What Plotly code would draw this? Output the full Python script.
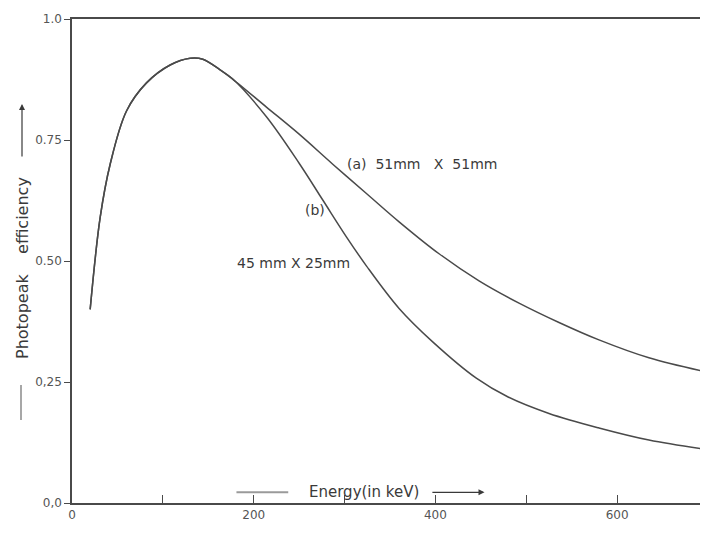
import plotly.graph_objects as go

# Data
energy_a = [20, 31, 42, 60, 82, 108, 130, 144, 163, 174, 214, 250, 287, 325, 360, 404, 448, 492, 536, 580, 635, 700]
eff_a = [0.40, 0.59, 0.70, 0.81, 0.868, 0.905, 0.919, 0.917, 0.895, 0.880, 0.818, 0.762, 0.700, 0.638, 0.581, 0.515, 0.459, 0.413, 0.373, 0.337, 0.300, 0.270]

energy_b = [20, 31, 42, 60, 82, 108, 130, 144, 163, 177, 214, 250, 276, 302, 324, 360, 397, 445, 480, 525, 580, 635, 700]
eff_b = [0.40, 0.59, 0.70, 0.81, 0.868, 0.905, 0.919, 0.917, 0.895, 0.876, 0.798, 0.702, 0.626, 0.550, 0.490, 0.402, 0.333, 0.258, 0.219, 0.185, 0.155, 0.130, 0.110]

x_tickvals = [0, 100, 200, 300, 400, 500, 600, 700]
x_ticktext = ["0", "", "200", "", "400", "", "600", ""]
y_tickvals = [0, 0.25, 0.5, 0.75, 1.0]
y_ticktext = ["0,0", "0,25", "0.50", "0.75", "1.0"]

LINE = "#4a4a4a"
TXT = "#3a3a3a"
FONT = "DejaVu Sans"

fig = go.Figure()
fig.add_trace(go.Scatter(x=energy_a, y=eff_a, mode="lines",
                         line=dict(color=LINE, width=1.5, shape="spline", smoothing=1.0),
                         showlegend=False, hoverinfo="skip"))
fig.add_trace(go.Scatter(x=energy_b, y=eff_b, mode="lines",
                         line=dict(color=LINE, width=1.5, shape="spline", smoothing=1.0),
                         showlegend=False, hoverinfo="skip"))

# page body has an 8px margin, so the figure is 8px smaller and shifted
fig.update_layout(
    width=700, height=529,
    margin=dict(l=64, r=0, t=11, b=34),
    paper_bgcolor="white", plot_bgcolor="white",
    font=dict(family=FONT, color=TXT, size=12),
    xaxis=dict(range=[0, 700], tickvals=x_tickvals, ticktext=x_ticktext,
               ticks="inside", ticklen=8, tickcolor=LINE, tickwidth=1,
               showline=True, linecolor=LINE, linewidth=1.5, mirror=True,
               showgrid=False, zeroline=False, automargin=False,
               tickfont=dict(size=12, color="#555")),
    yaxis=dict(range=[0, 1.0], tickvals=y_tickvals, ticktext=y_ticktext,
               ticks="outside", ticklen=6, tickcolor=LINE, tickwidth=1,
               showline=True, linecolor=LINE, linewidth=1.5,
               showgrid=False, zeroline=False, automargin=False,
               tickfont=dict(size=12, color="#555")),
)

# Curve labels
fig.add_annotation(x=300, y=0.70, xref="x", yref="y", xanchor="left", yanchor="middle",
                   text="(a)  51mm   X  51mm", showarrow=False, font=dict(size=14, color=TXT))
fig.add_annotation(x=281, y=0.605, xref="x", yref="y", xanchor="right", yanchor="middle",
                   text="(b)", showarrow=False, font=dict(size=14, color=TXT))
fig.add_annotation(x=179, y=0.495, xref="x", yref="y", xanchor="left", yanchor="middle",
                   text="45 mm X 25mm", showarrow=False, font=dict(size=14, color=TXT))

# X axis title with lead line and arrow
fig.add_annotation(x=259, y=0.022, xref="x", yref="y", xanchor="left", yanchor="middle",
                   text="Energy(in keV)", showarrow=False, font=dict(size=15, color=TXT))
fig.add_shape(type="line", x0=181, x1=238, y0=0.022, y1=0.022, xref="x", yref="y",
              line=dict(color="#9a9a9a", width=2))
fig.add_annotation(x=454, y=0.022, ax=395, ay=0.022, xref="x", yref="y", axref="x", ayref="y",
                   text="", showarrow=True, arrowhead=2, arrowsize=1, arrowwidth=1.2,
                   arrowcolor=TXT)

# Y axis title with lead line and arrow (paper coords via page-pixel conversion)
def px_x(p):
    return (p - 72) / 636.0

def px_y(p):
    return (503 - p) / 484.0

fig.add_annotation(x=px_x(22), y=px_y(268), xref="paper", yref="paper",
                   xanchor="center", yanchor="middle", textangle=-90,
                   text="Photopeak    efficiency", showarrow=False,
                   font=dict(size=16, color=TXT))
fig.add_shape(type="line", x0=px_x(21), x1=px_x(21), y0=px_y(420), y1=px_y(385),
              xref="paper", yref="paper", line=dict(color="#8a8a8a", width=1.5))
fig.add_annotation(x=px_x(22), y=px_y(104), ax=0, ay=54,
                   xref="paper", yref="paper", axref="pixel", ayref="pixel",
                   text="", showarrow=True, arrowhead=2, arrowsize=1, arrowwidth=1.2,
                   arrowcolor=TXT)

fig.write_html("out.html")
